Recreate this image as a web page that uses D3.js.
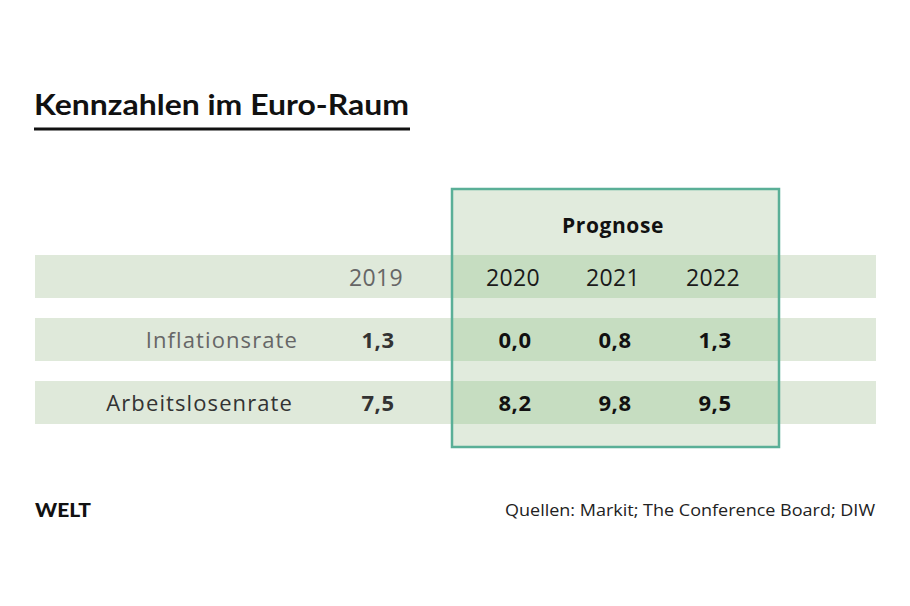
<!DOCTYPE html>
<html><head><meta charset="utf-8">
<script src="https://cdn.jsdelivr.net/npm/d3@7"></script>
<style>html,body{margin:0;padding:0;background:#fff;}svg{display:block;}</style>
</head><body>
<svg id="chart" width="910" height="606"></svg>
<script>
const title = "Kennzahlen im Euro-Raum";
const years = ["2019", "2020", "2021", "2022"];
const forecastYears = ["2020", "2021", "2022"];
const rowLabels = ["Inflationsrate", "Arbeitslosenrate"];
const inflation = [1.3, 0.0, 0.8, 1.3];
const unemployment = [7.5, 8.2, 9.8, 9.5];
const forecastLabel = "Prognose";
const brand = "WELT";
const source = "Quellen: Markit; The Conference Board; DIW";

const fmt = v => d3.format(".1f")(v).replace(".", ",");
const series = [inflation, unemployment];

const svg = d3.select("#chart");
const font = "'Open Sans', 'Noto Sans', sans-serif";
const titleFont = "Lato, 'Open Sans', sans-serif";

// Title
svg.append("text").attr("x", 34).attr("y", 115)
  .attr("font-family", titleFont).attr("font-weight", 700).attr("font-size", 28)
  .attr("fill", "#111").text(title)
  .attr("textLength", 375).attr("lengthAdjust", "spacingAndGlyphs");
svg.append("rect").attr("x", 34).attr("y", 127.5).attr("width", 376).attr("height", 3).attr("fill", "#111");

// Scales
const rows = ["header", ...rowLabels];
const y = d3.scaleBand().domain(rows).range([255, 424]).paddingInner(0.3175).paddingOuter(0);
const x = d3.scaleOrdinal().domain(years).range([376, 513, 613, 713]);
const fx = d3.scalePoint().domain(forecastYears).range([513, 713]);
const step = fx.step();
const boxLeft = fx(forecastYears[0]) - step * 0.61;
const boxRight = fx(forecastYears[forecastYears.length - 1]) + step * 0.66;
const left = 35, right = 876;

// Prognose box background
svg.append("rect").attr("x", boxLeft).attr("y", 189).attr("width", boxRight - boxLeft).attr("height", 447 - 189)
  .attr("fill", "#e1ebdd");

// Row bands
rows.forEach(r => {
  svg.append("rect").attr("x", left).attr("y", y(r)).attr("width", boxLeft - left).attr("height", y.bandwidth()).attr("fill", "#dfe9da");
  svg.append("rect").attr("x", boxLeft).attr("y", y(r)).attr("width", boxRight - boxLeft).attr("height", y.bandwidth()).attr("fill", "#c6ddc1");
  svg.append("rect").attr("x", boxRight).attr("y", y(r)).attr("width", right - boxRight).attr("height", y.bandwidth()).attr("fill", "#dfe9da");
});

// Box outline
svg.append("rect").attr("x", boxLeft).attr("y", 189).attr("width", boxRight - boxLeft).attr("height", 447 - 189)
  .attr("fill", "none").attr("stroke", "#5aaf97").attr("stroke-width", 2.5);

// Prognose label
svg.append("text").attr("x", fx(forecastYears[1])).attr("y", 233).attr("text-anchor", "middle")
  .attr("font-family", font).attr("font-weight", 700).attr("font-size", 21).attr("letter-spacing", 0.6)
  .attr("fill", "#111").text(forecastLabel);

const mid = r => y(r) + y.bandwidth() / 2;

// Header years
svg.selectAll("text.year").data(years).join("text").attr("class", "year")
  .attr("x", d => x(d)).attr("y", mid("header")).attr("dy", "0.4em").attr("text-anchor", "middle")
  .attr("font-family", font).attr("font-size", 23).attr("letter-spacing", 0.4)
  .attr("fill", d => forecastYears.includes(d) ? "#1a1a1a" : "#666").text(d => d);

// Row labels
svg.selectAll("text.rowlabel").data(rowLabels).join("text").attr("class", "rowlabel")
  .attr("x", (d, i) => 298 - i * 5).attr("y", d => mid(d)).attr("dy", "0.4em").attr("text-anchor", "end")
  .attr("font-family", font).attr("font-size", 22).attr("letter-spacing", 1.1)
  .attr("fill", (d, i) => i === 0 ? "#666" : "#333").text(d => d);

// Values
rowLabels.forEach((r, ri) => {
  svg.selectAll("text.v" + ri).data(series[ri]).join("text").attr("class", "v" + ri)
    .attr("x", (d, i) => x(years[i]) + 2).attr("y", mid(r)).attr("dy", "0.4em").attr("text-anchor", "middle")
    .attr("font-family", font).attr("font-weight", 700).attr("font-size", 22).attr("letter-spacing", 0.5)
    .attr("fill", (d, i) => i === 0 ? "#333" : "#111").text(d => fmt(d));
});

// Footer
svg.append("text").attr("x", 35).attr("y", 517).attr("font-family", titleFont).attr("font-weight", 900)
  .attr("font-size", 19).attr("fill", "#111").attr("textLength", 56).attr("lengthAdjust", "spacingAndGlyphs").text(brand);
svg.append("text").attr("x", 875).attr("y", 516).attr("text-anchor", "end").attr("font-family", font)
  .attr("font-size", 16.5).attr("fill", "#222").text(source)
  .attr("textLength", 370).attr("lengthAdjust", "spacingAndGlyphs");
</script>
</body></html>
